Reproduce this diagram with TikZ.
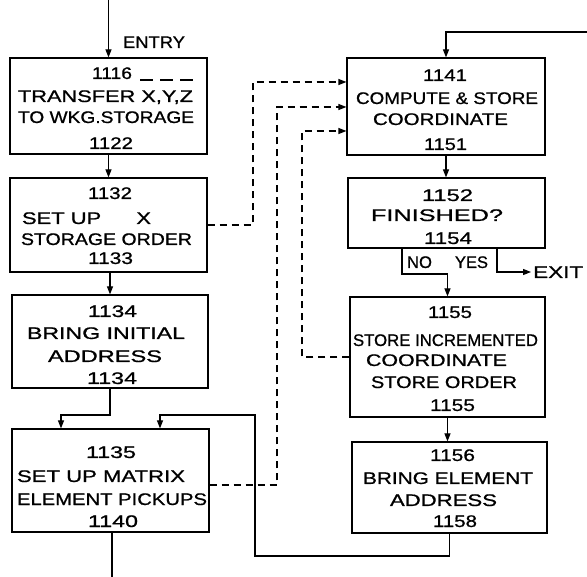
\documentclass[tikz,border=0pt]{standalone}
\usepackage{fontspec}
\setmainfont{Liberation Sans}
\newfontfamily\lettering{Liberation Sans}[FakeBold=0.8]
\usepackage{graphicx}
\usetikzlibrary{arrows.meta}
\newcommand{\fitw}[2]{\resizebox{#1pt}{\height}{#2}}
\tikzset{
 box/.style={draw, line width=1.1pt, minimum width=197pt, inner sep=0pt},
 txt/.style={inner sep=0pt, text height=12pt, text depth=0pt, font=\lettering\fontsize{16.8}{19}\selectfont},
 ln/.style={line width=1.1pt},
 arr/.style={ln, -{Triangle[length=8pt,width=6pt]}},
 dsh/.style={line width=1.1pt, dash pattern=on 7pt off 5pt},
 darr/.style={dsh, -{Triangle[length=8pt,width=6pt]}},
}
\begin{document}
\begin{tikzpicture}[x=1pt,y=-1pt]
\fill[white] (0,0) rectangle (587,577);
\useasboundingbox (0,0) rectangle (587,577);
% boxes
\node[box, minimum width=197pt, minimum height=96pt] (B1) at (108.5,106) {};
\node[box, minimum width=197pt, minimum height=94pt] (B2) at (108.5,225) {};
\node[box, minimum width=196pt, minimum height=93pt] (B3) at (110,341.5) {};
\node[box, minimum width=197pt, minimum height=103pt] (B4) at (110.5,480.5) {};
\node[box, minimum width=198pt, minimum height=97pt] (R1) at (446,106.5) {};
\node[box, minimum width=197pt, minimum height=70pt] (R2) at (446.5,213) {};
\node[box, minimum width=195pt, minimum height=120pt] (R3) at (447.5,357) {};
\node[box, minimum width=195pt, minimum height=91pt] (R4) at (449.5,487.5) {};
% texts B1
\node[txt] (b1a) at (112,73) {\fitw{40}{1116}};
\node[txt] (b1b) at (105.5,96) {\fitw{175}{TRANSFER X,Y,Z}};
\node[txt] (b1c) at (106,117) {\fitw{176}{TO WKG.STORAGE}};
\node[txt] (b1d) at (111,143) {\fitw{44}{1122}};
\draw[line width=1.1pt, dash pattern=on 13pt off 7pt] (140,80) -- (193,80);
% B2
\node[txt] (b2a) at (110,193) {\fitw{44}{1132}};
\node[txt] (b2b) at (86.5,218) {\fitw{129}{SET UP\hspace{1.6em}X}};
\node[txt] (b2c) at (106.5,239) {\fitw{171}{STORAGE ORDER}};
\node[txt] (b2d) at (110.5,258) {\fitw{45}{1133}};
% B3
\node[txt] (b3a) at (112.5,311) {\fitw{49}{1134}};
\node[txt] (b3b) at (106,333) {\fitw{158}{BRING INITIAL}};
\node[txt] (b3c) at (105,356) {\fitw{114}{ADDRESS}};
\node[txt] (b3d) at (112,378) {\fitw{50}{1134}};
% B4
\node[txt] (b4a) at (111,452) {\fitw{50}{1135}};
\node[txt] (b4b) at (101,476) {\fitw{168}{SET UP MATRIX}};
\node[txt] (b4c) at (112,499) {\fitw{190}{ELEMENT PICKUPS}};
\node[txt] (b4d) at (113,521) {\fitw{50}{1140}};
% R1
\node[txt] (r1a) at (445,75) {\fitw{44}{1141}};
\node[txt] (r1b) at (447,98) {\fitw{182}{COMPUTE \& STORE}};
\node[txt] (r1c) at (440.5,119) {\fitw{135}{COORDINATE}};
\node[txt] (r1d) at (445.5,144) {\fitw{43}{1151}};
% R2
\node[txt] (r2a) at (447.5,195) {\fitw{51}{1152}};
\node[txt] (r2b) at (437,215) {\fitw{132}{FINISHED?}};
\node[txt] (r2c) at (448,238) {\fitw{48}{1154}};
% R3
\node[txt] (r3a) at (450,312) {\fitw{44}{1155}};
\node[txt] (r3b) at (445.5,340) {\fitw{185}{STORE INCREMENTED}};
\node[txt] (r3c) at (436.5,360) {\fitw{141}{COORDINATE}};
\node[txt] (r3d) at (444,382) {\fitw{146}{STORE ORDER}};
\node[txt] (r3e) at (452.5,405) {\fitw{45}{1155}};
% R4
\node[txt] (r4a) at (452.5,455) {\fitw{45}{1156}};
\node[txt] (r4b) at (448,478) {\fitw{170}{BRING ELEMENT}};
\node[txt] (r4c) at (443.5,500) {\fitw{107}{ADDRESS}};
\node[txt] (r4d) at (455,521) {\fitw{44}{1158}};
% labels
\node[txt] (ENT) at (154,42) {\fitw{62}{ENTRY}};
\node[txt] (NOl) at (419.5,262) {\fitw{25}{NO}};
\node[txt] (YESl) at (471.5,262) {\fitw{33}{YES}};
\node[txt, anchor=west] (EXIT) at (533,272) {\fitw{50}{EXIT}};
% solid connectors
\coordinate (entry) at (108.5,0);
\draw[arr] (entry) -- (B1.north);
\draw[arr] (B1.south) -- (B2.north);
\draw[arr] (B3.north |- B2.south) -- (B3.north);
\coordinate (j1) at (61,415);
\draw[arr] (B3.south) |- (j1) -- (j1 |- B4.north);
\coordinate (l1) at (255,556);
\coordinate (l2) at (255,415);
\coordinate (l3) at (160,415);
\draw[arr] (R4.south) |- (l1) -- (l2) -- (l3) -- (l3 |- B4.north);
\coordinate (out) at (112,577);
\draw[ln] (B4.south -| out) -- (out);
\coordinate (top) at (587,32);
\draw[arr] (top) -| (R1.north);
\draw[arr] (R1.south) -- (R1.south |- R2.north);
\coordinate (no) at (402,274);
\draw[arr] (no |- R2.south) -- (no) -| (R3.north);
\coordinate (yes) at (497,272);
\draw[arr, shorten >=2pt] (yes |- R2.south) -- (yes) -- (EXIT.west);
\draw[arr] (R3.south) -- (R3.south |- R4.north);
% dashed connectors
\coordinate (d1) at (253,82);
\draw[darr] (B2.east) -| (d1) -- (d1 -| R1.west);
\coordinate (d2) at (277,107);
\draw[darr] (B4.east |- 0,485) -| (d2) -- (d2 -| R1.west);
\coordinate (d3) at (302,131);
\draw[darr] (R3.west) -| (d3) -- (d3 -| R1.west);
\end{tikzpicture}
\end{document}
